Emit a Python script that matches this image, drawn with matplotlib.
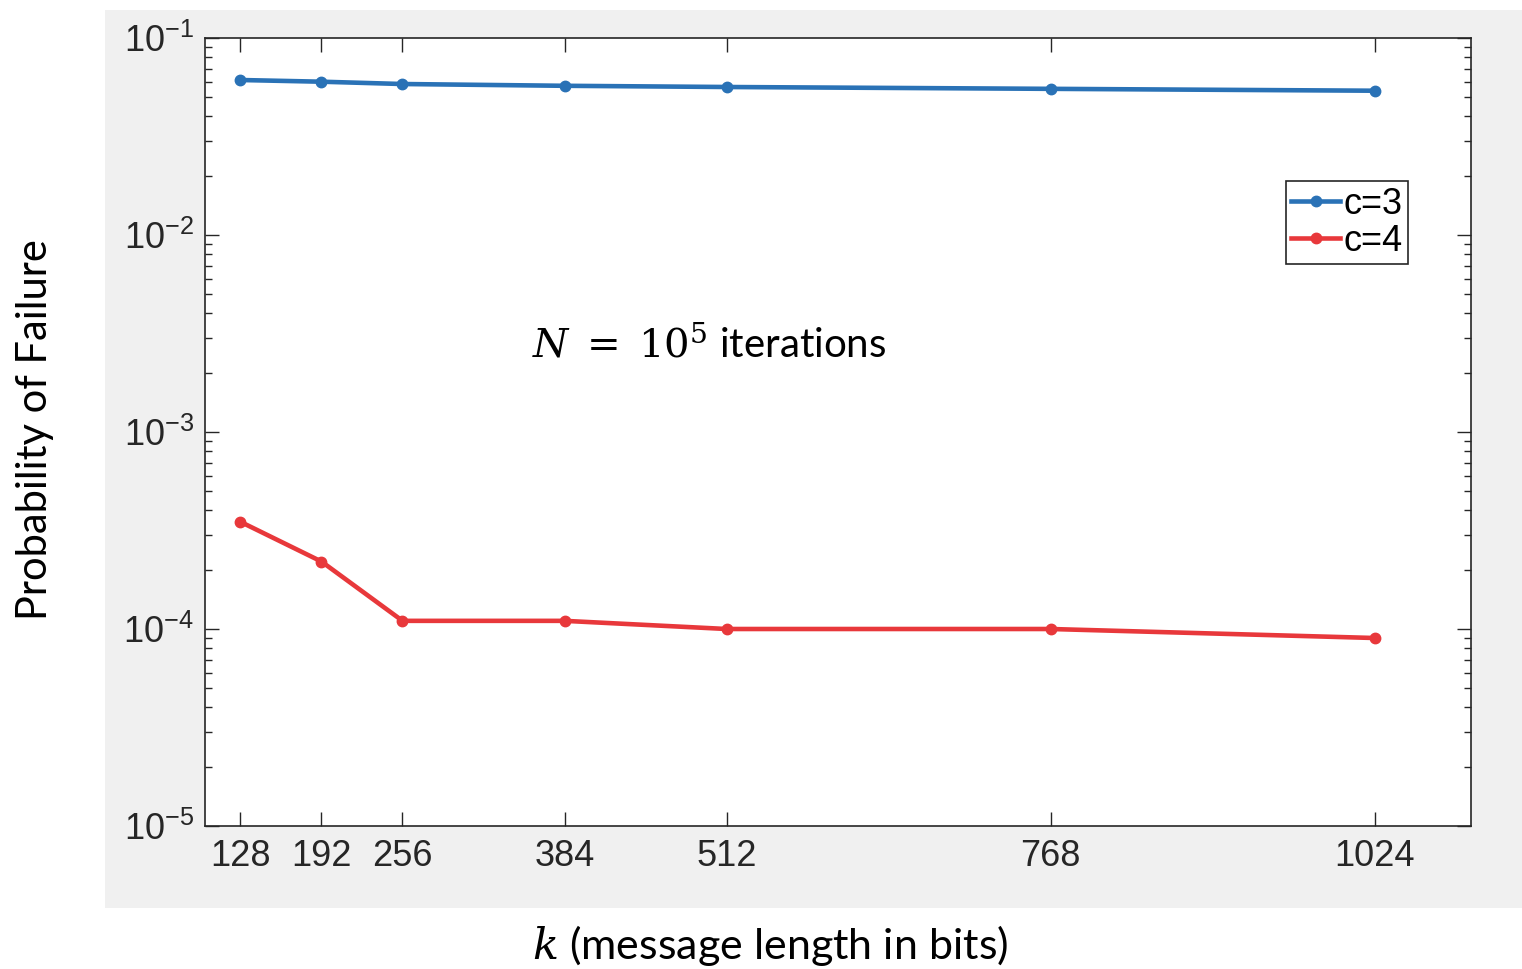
import math
import matplotlib
matplotlib.use("Agg")
import matplotlib.pyplot as plt
from matplotlib.patches import Rectangle
from matplotlib.ticker import FixedLocator, FuncFormatter, LogLocator, NullFormatter

# data
k_bits = [128, 192, 256, 384, 512, 768, 1024]
p_c3 = [0.0612, 0.0600, 0.0584, 0.0572, 0.0564, 0.0552, 0.0540]
p_c4 = [3.5e-4, 2.2e-4, 1.1e-4, 1.1e-4, 1.0e-4, 1.0e-4, 0.9e-4]
series_labels = ["c=3", "c=4"]

blue = "#2a72b6"
red = "#e8383b"
ink = "#262626"

plt.rcParams["font.family"] = ["Liberation Sans", "DejaVu Sans"]
plt.rcParams["mathtext.default"] = "regular"

fig = plt.figure(figsize=(15.22, 9.69), dpi=100)
fig.patch.set_facecolor("white")

# grey matlab-style figure panel
fig.patches.append(Rectangle((105 / 1522, 61 / 969), 1417 / 1522, 898 / 969,
                             transform=fig.transFigure, facecolor="#f0f0f0",
                             edgecolor="none", zorder=-5))

ax = fig.add_axes([205 / 1522, 143 / 969, 1266 / 1522, 788 / 969])
ax.set_facecolor("white")

ax.plot(k_bits, p_c3, "-o", color=blue, lw=3.3, ms=7.5, label=series_labels[0])
ax.plot(k_bits, p_c4, "-o", color=red, lw=3.3, ms=7.5, label=series_labels[1])

ax.set_yscale("log")
ax.set_ylim(1e-5, 1e-1)
ax.set_xlim(100, 1100)

ax.xaxis.set_major_locator(FixedLocator(k_bits))
ax.yaxis.set_major_locator(LogLocator(base=10, numticks=10))
ax.yaxis.set_minor_locator(LogLocator(base=10, subs=range(2, 10), numticks=10))
ax.yaxis.set_minor_formatter(NullFormatter())
ax.yaxis.set_major_formatter(FuncFormatter(
    lambda v, pos: r"$10^{%d}$" % round(math.log10(v))))

ax.tick_params(which="both", direction="in", top=True, right=True,
               colors=ink, labelsize=26)
ax.tick_params(which="major", length=10, width=1)
ax.tick_params(which="minor", length=5, width=1)
ax.tick_params(axis="x", pad=9)
ax.tick_params(axis="y", pad=8)
for s in ax.spines.values():
    s.set_color(ink)
    s.set_linewidth(1.2)

leg = ax.legend(loc="upper right", bbox_to_anchor=(0.9505, 0.818), fontsize=26,
                handlelength=1.35, handletextpad=0.1, borderpad=0.15,
                labelspacing=0.05, fancybox=False, framealpha=1,
                borderaxespad=0)
leg.get_frame().set_edgecolor(ink)
leg.get_frame().set_linewidth(1.2)

ax.text(0.398, 0.612, r"$\mathit{N}\;\mathrm{=}\;\mathrm{10^5}$ iterations",
        transform=ax.transAxes, fontsize=29, family="Lato",
        math_fontfamily="dejavuserif", ha="center", va="center", color="black")

fig.text(35 / 1522, 1 - 430 / 969, "Probability of Failure", rotation=90,
         fontsize=30, family="Lato", ha="center", va="center")
fig.text(770 / 1522, 1 - 945 / 969, r"$\mathit{k}$ (message length in bits)",
         fontsize=31, family="Lato", math_fontfamily="dejavuserif",
         ha="center", va="center")

fig.savefig("out.png", dpi=100)
